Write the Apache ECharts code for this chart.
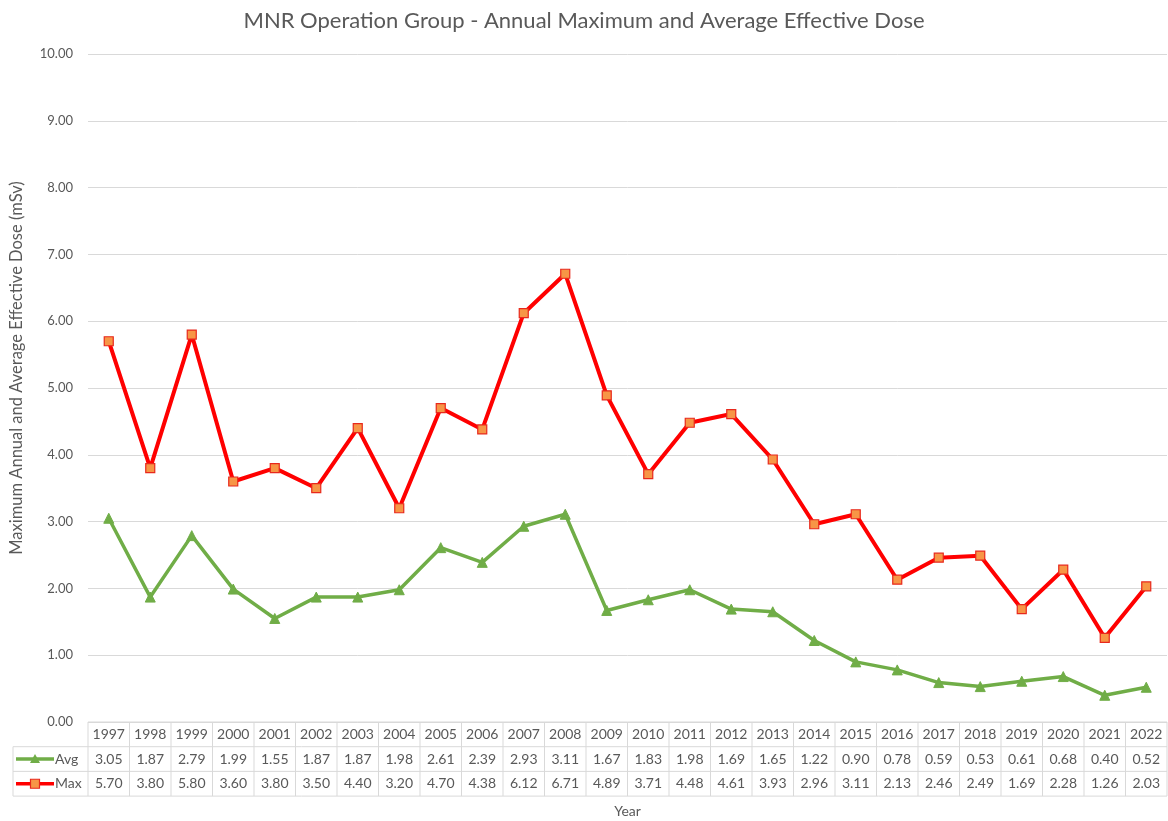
<!DOCTYPE html>
<html>
<head>
<meta charset="utf-8">
<title>MNR Operation Group - Annual Maximum and Average Effective Dose</title>
<script src="https://cdn.jsdelivr.net/npm/echarts@6/dist/echarts.min.js"></script>
<style>
  html, body { margin: 0; padding: 0; background: #ffffff; }
  #chart { width: 1168px; height: 821px; }
</style>
</head>
<body>
<div id="chart"></div>
<script>
// Years and annual doses (mSv)
const years = ['1997','1998','1999','2000','2001','2002','2003','2004','2005','2006','2007','2008','2009',
               '2010','2011','2012','2013','2014','2015','2016','2017','2018','2019','2020','2021','2022'];
const avgDose = [3.05,1.87,2.79,1.99,1.55,1.87,1.87,1.98,2.61,2.39,2.93,3.11,1.67,
                 1.83,1.98,1.69,1.65,1.22,0.90,0.78,0.59,0.53,0.61,0.68,0.40,0.52];
const maxDose = [5.70,3.80,5.80,3.60,3.80,3.50,4.40,3.20,4.70,4.38,6.12,6.71,4.89,
                 3.71,4.48,4.61,3.93,2.96,3.11,2.13,2.46,2.49,1.69,2.28,1.26,2.03];
const yTicks = [0,1,2,3,4,5,6,7,8,9,10];

const FONT = 'Lato, "Open Sans", sans-serif';
const TEXT = '#595959';
const GRIDC = '#d9d9d9';
const GREEN = '#70ad47';
const RED = '#ff0000';
const ORANGE = '#f79646';

const chart = echarts.init(document.getElementById('chart'), null, { renderer: 'canvas' });

const GRID = { left: 88, right: 1, top: 54, bottom: 99, containLabel: false, outerBoundsMode: 'none' };

chart.setOption({
  backgroundColor: '#ffffff',
  animation: false,
  textStyle: { fontFamily: FONT },
  title: {
    text: 'MNR Operation Group - Annual Maximum and Average Effective Dose',
    left: 'center', top: 5,
    textStyle: { fontFamily: FONT, fontSize: 22, fontWeight: 'normal', color: TEXT }
  },
  grid: GRID,
  xAxis: {
    type: 'category',
    data: years,
    boundaryGap: true,
    axisLine: { show: false },
    axisTick: { show: false },
    axisLabel: { show: false },
    splitLine: { show: false },
    name: 'Year',
    nameLocation: 'middle',
    nameGap: 82,
    nameTextStyle: { fontFamily: FONT, fontSize: 14, color: TEXT }
  },
  yAxis: {
    type: 'value',
    min: yTicks[0], max: yTicks[yTicks.length - 1], interval: 1,
    axisLine: { show: false },
    axisTick: { show: false },
    axisLabel: {
      fontFamily: FONT, fontSize: 13, color: TEXT, margin: 15,
      formatter: v => v.toFixed(2)
    },
    splitLine: { lineStyle: { color: GRIDC, width: 1 } }
  },
  series: [
    {
      name: 'Avg', type: 'line', data: avgDose,
      symbol: 'triangle', symbolSize: 10,
      lineStyle: { color: GREEN, width: 3.5 },
      itemStyle: { color: GREEN, borderColor: GREEN, borderWidth: 1 },
      z: 3
    },
    {
      name: 'Max', type: 'line', data: maxDose,
      symbol: 'rect', symbolSize: 9,
      lineStyle: { color: RED, width: 4 },
      itemStyle: { color: ORANGE, borderColor: '#e8281c', borderWidth: 1.2 },
      z: 4
    }
  ]
});

// Data table under the plot, aligned to the category axis
function buildTable() {
  const g = [];
  const x0 = chart.convertToPixel({ xAxisIndex: 0 }, 0);
  const x1 = chart.convertToPixel({ xAxisIndex: 0 }, 1);
  const step = x1 - x0;
  const left = x0 - step / 2;
  const right = chart.convertToPixel({ xAxisIndex: 0 }, years.length - 1) + step / 2;
  const yTop = chart.convertToPixel({ yAxisIndex: 0 }, 0);
  const rowH = 24.7;
  const r1 = yTop + rowH, r2 = yTop + 2 * rowH, r3 = yTop + 3 * rowH;
  const keyLeft = 13;
  const ls = { stroke: GRIDC, lineWidth: 1 };
  const line = (xa, ya, xb, yb) => g.push({ type: 'line', silent: true,
    shape: { x1: xa, y1: ya, x2: xb, y2: yb }, style: ls });

  // horizontal rules
  line(left, yTop, right, yTop);
  line(keyLeft, r1, right, r1);
  line(keyLeft, r2, right, r2);
  line(keyLeft, r3, right, r3);
  // vertical rules
  line(keyLeft, r1, keyLeft, r3);
  for (let i = 0; i <= years.length; i++) {
    const x = left + i * step;
    line(x, yTop, x, r3);
  }
  const txt = (x, y, s, align) => g.push({ type: 'text', silent: true, x: x, y: y,
    style: { text: s, fill: TEXT, font: '14px ' + FONT, textAlign: align || 'center', textVerticalAlign: 'middle' } });

  years.forEach((yr, i) => {
    const cx = chart.convertToPixel({ xAxisIndex: 0 }, i);
    txt(cx, (yTop + r1) / 2, yr);
    txt(cx, (r1 + r2) / 2, avgDose[i].toFixed(2));
    txt(cx, (r2 + r3) / 2, maxDose[i].toFixed(2));
  });

  // legend keys in the row headers
  const keyY1 = (r1 + r2) / 2, keyY2 = (r2 + r3) / 2;
  g.push({ type: 'line', silent: true, shape: { x1: 16, y1: keyY1, x2: 54, y2: keyY1 },
    style: { stroke: GREEN, lineWidth: 3.5 } });
  g.push({ type: 'polygon', silent: true,
    shape: { points: [[35, keyY1 - 5], [40, keyY1 + 4], [30, keyY1 + 4]] },
    style: { fill: GREEN } });
  txt(55, keyY1, 'Avg', 'left');
  g.push({ type: 'line', silent: true, shape: { x1: 16, y1: keyY2, x2: 54, y2: keyY2 },
    style: { stroke: RED, lineWidth: 3.5 } });
  g.push({ type: 'rect', silent: true,
    shape: { x: 30.5, y: keyY2 - 4.5, width: 9, height: 9 },
    style: { fill: ORANGE, stroke: '#e8281c', lineWidth: 1.2 } });
  txt(55, keyY2, 'Max', 'left');

  // vertical axis title
  g.push({ type: 'text', silent: true, x: 17, y: 368, rotation: Math.PI / 2,
    style: { text: 'Maximum Annual and Average Effective Dose (mSv)', fill: TEXT,
             font: '16.5px ' + FONT, textAlign: 'center', textVerticalAlign: 'middle' } });

  chart.setOption({ graphic: { elements: g } });
}
buildTable();
</script>
</body>
</html>
